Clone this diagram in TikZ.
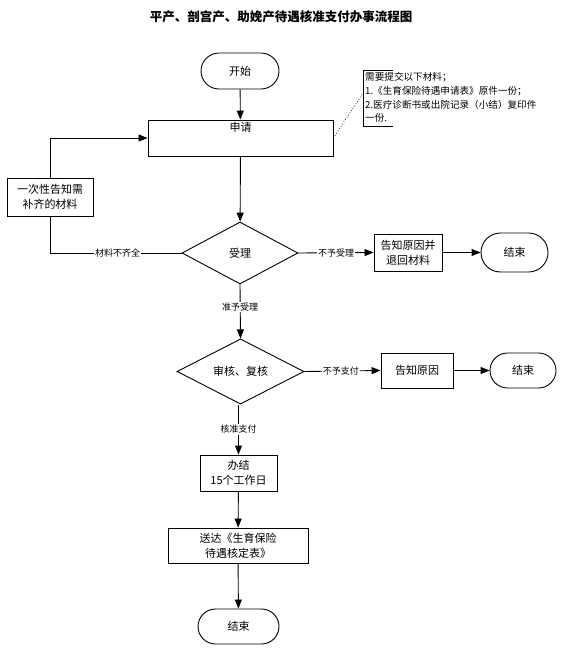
\documentclass[tikz,border=0pt]{standalone}
\usepackage{fontspec}
\setmainfont{Noto Sans CJK SC}
\usetikzlibrary{arrows.meta,shapes.geometric,shapes.misc,calc}
\tikzset{
  base/.style={draw=black, line width=0.9pt, inner sep=0pt, align=center, font=\fontsize{11}{15}\selectfont},
  procbox/.style={base, rectangle},
  term/.style={base, rounded rectangle},
  decide/.style={base, diamond},
  lbl/.style={fill=white, inner sep=1pt, font=\fontsize{9}{10}\selectfont},
  conn/.style={line width=0.9pt},
  arr/.style={conn, -{Triangle[length=9pt,width=7pt]}},
}
\begin{document}
\begin{tikzpicture}[x=1pt,y=-1pt]
\useasboundingbox (0,0) rectangle (562,664);
\node[font=\bfseries\fontsize{12.5}{14}\selectfont] (title) at (281,17) {平产、剖宫产、助娩产待遇核准支付办事流程图};

\node[term, minimum width=78pt, minimum height=36pt] (start) at (240,71) {开始};
\node[procbox, minimum width=185pt, minimum height=36pt,
      label={[anchor=north, inner sep=0pt, yshift=-3pt, font=\fontsize{11}{13}\selectfont]north:申请}] (apply) at (240.5,138) {};
\node[procbox, minimum width=86pt, minimum height=38pt] (left) at (50,197) {一次性告知需\\补齐的材料};
\node[decide, minimum width=116pt, minimum height=62pt] (d1) at (240,253) {受理};
\node[procbox, minimum width=68pt, minimum height=37pt] (refuse) at (408,252.5) {告知原因并\\退回材料};
\node[term, minimum width=67pt, minimum height=39pt] (end1) at (514.5,252.5) {结束};
\node[decide, minimum width=127pt, minimum height=59pt] (d2) at (240.5,371.5) {审核、复核};
\node[procbox, minimum width=72pt, minimum height=35pt] (reason) at (417,370.5) {告知原因};
\node[term, minimum width=66pt, minimum height=35pt] (end2) at (523,370.5) {结束};
\node[procbox, minimum width=77pt, minimum height=36pt] (done) at (238.5,473) {办结\\15个工作日};
\node[procbox, minimum width=140pt, minimum height=35pt] (send) at (238,545.5) {送达《生育保险\\待遇核定表》};
\node[term, minimum width=81pt, minimum height=35pt] (end3) at (238.5,626.5) {结束};

% annotation
\node[anchor=north west, inner sep=0pt, align=left, font=\fontsize{9.6}{13.6}\selectfont] (note) at (365,72.5)
  {需要提交以下材料；\\1.《生育保险待遇申请表》原件一份；\\2.医疗诊断书或出院记录（小结）复印件\\一份.};
\coordinate (ntop) at (363,70);
\coordinate (nbot) at (363,126);
\coordinate (nmid) at (363,93);
\draw[conn] ($(ntop)+(30,0)$) -- (ntop) -- (nbot) -- ++(30,0);
\draw[line width=0.7pt, dotted] (apply.east) -- (nmid);

% connectors
\draw[arr] (start) -- (apply);
\draw[arr] (apply) -- (d1);
\draw[arr] (left.north) |- (apply.west);
\draw[conn] (left.south) |- node[lbl, pos=0.757] {材料不齐全} (d1.west);
\draw[arr] (d1.east) -- node[lbl] {不予受理} (refuse.west);
\draw[arr] (refuse) -- (end1);
\draw[arr] (d1.south) -- node[lbl, pos=0.42] {准予受理} (d2.north);
\draw[arr] (d2.east) -- node[lbl, pos=0.48] {不予支付} (reason.west);
\draw[arr] (reason) -- (end2);
\draw[arr] (d2.south -| done.north) -- node[lbl] {核准支付} (done.north);
\draw[arr] (done) -- (send);
\draw[arr] (send) -- (end3);
\end{tikzpicture}
\end{document}
